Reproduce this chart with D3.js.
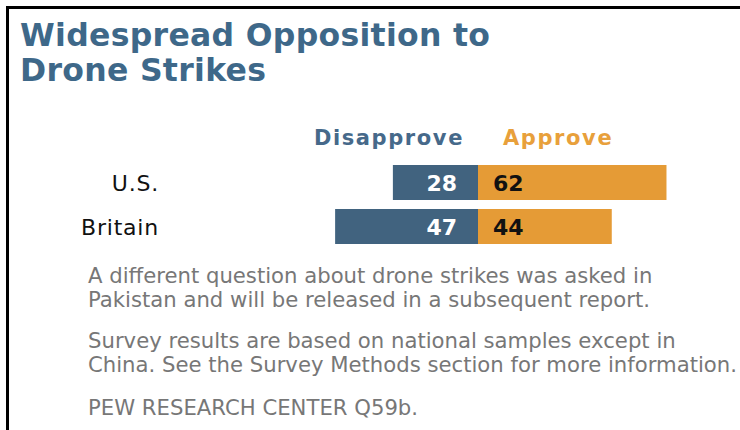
<!DOCTYPE html>
<html>
<head>
<meta charset="utf-8">
<script src="https://cdn.jsdelivr.net/npm/d3@7"></script>
<style>
  html, body { margin: 0; padding: 0; background: #fff; }
  svg { display: block; }
</style>
</head>
<body>
<div id="chart"></div>
<script>
// Drone strikes: disapprove / approve by country

var countries  = ["U.S.", "Britain"];
var disapprove = [28, 47];
var approve    = [62, 44];

var titleLines = ["Widespread Opposition to", "Drone Strikes"];
var seriesNames = ["Disapprove", "Approve"];
var notes = [
  ["A different question about drone strikes was asked in",
   "Pakistan and will be released in a subsequent report."],
  ["Survey results are based on national samples except in",
   "China. See the Survey Methods section for more information."],
  ["PEW RESEARCH CENTER Q59b."]
];

var W = 740, H = 430;
var BLUE = "#41637f", ORANGE = "#e59b36", TITLE = "#3e6889";

var svg = d3.select("#chart").append("svg")
  .attr("width", W).attr("height", H);

// frame (left + top rule)
svg.append("path")
  .attr("d", "M7.5," + H + "V7.5H" + W)
  .attr("fill", "none").attr("stroke", "#000").attr("stroke-width", 3);

// title
svg.append("g").selectAll("text").data(titleLines).join("text")
  .attr("x", 20).attr("y", function (d, i) { return 46 + i * 35; })
  .attr("font-family", "DejaVu Sans").attr("font-weight", "bold")
  .attr("font-size", "31.5px").attr("letter-spacing", "0.3px").attr("fill", TITLE)
  .text(function (d) { return d; });

// scales
var mid = 478;
var x = d3.scaleLinear().domain([0, 100]).range([0, 304]);
var y = d3.scaleBand().domain(countries).range([165, 244]).paddingInner(9 / 44);
var bh = y.bandwidth();

// series headers
svg.append("text").attr("x", mid - 14).attr("y", 145)
  .attr("text-anchor", "end")
  .attr("font-family", "DejaVu Sans").attr("font-weight", "bold")
  .attr("font-size", "21px").attr("letter-spacing", "1.6px").attr("fill", "#46698a")
  .text(seriesNames[0]);
svg.append("text").attr("x", mid + 25).attr("y", 145)
  .attr("font-family", "DejaVu Sans").attr("font-weight", "bold")
  .attr("font-size", "21px").attr("letter-spacing", "1.6px").attr("fill", "#e8a03b")
  .text(seriesNames[1]);

var rows = svg.append("g").selectAll("g").data(countries).join("g")
  .attr("transform", function (d) { return "translate(0," + y(d) + ")"; });

rows.append("text")
  .attr("x", 159).attr("y", bh / 2 + 8.5)
  .attr("text-anchor", "end")
  .attr("font-family", "DejaVu Sans").attr("font-size", "22px")
  .attr("letter-spacing", "0.8px").attr("fill", "#111")
  .text(function (d) { return d; });

rows.append("rect")
  .attr("x", function (d, i) { return mid - x(disapprove[i]); })
  .attr("width", function (d, i) { return x(disapprove[i]); })
  .attr("height", bh).attr("fill", BLUE);

rows.append("rect")
  .attr("x", mid)
  .attr("width", function (d, i) { return x(approve[i]); })
  .attr("height", bh).attr("fill", ORANGE);

rows.append("text")
  .attr("x", mid - 21).attr("y", bh / 2 + 8.5)
  .attr("text-anchor", "end")
  .attr("font-family", "DejaVu Sans").attr("font-weight", "bold")
  .attr("font-size", "22px").attr("fill", "#fff")
  .text(function (d, i) { return disapprove[i]; });

rows.append("text")
  .attr("x", mid + 15).attr("y", bh / 2 + 8.5)
  .attr("font-family", "DejaVu Sans").attr("font-weight", "bold")
  .attr("font-size", "22px").attr("fill", "#111")
  .text(function (d, i) { return approve[i]; });

// notes
var paraY = [283, 348, 415];
var ng = svg.append("g")
  .attr("font-family", "DejaVu Sans").attr("font-size", "21.2px").attr("fill", "#777");
notes.forEach(function (p, pi) {
  p.forEach(function (line, li) {
    ng.append("text").attr("x", 88).attr("y", paraY[pi] + li * 24).text(line);
  });
});
</script>
</body>
</html>
